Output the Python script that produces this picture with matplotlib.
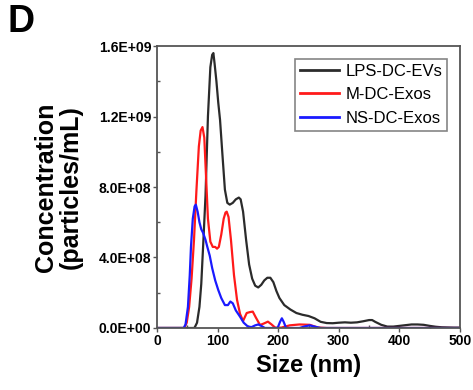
import numpy as np
import matplotlib
matplotlib.use('Agg')
import matplotlib.pyplot as plt
from matplotlib.ticker import MultipleLocator, FuncFormatter

plt.rcParams['font.family'] = ['Liberation Sans', 'DejaVu Sans']

# LPS-DC-EVs (size nm, concentration in 1E8 particles/mL)
lps_size = [0, 60, 62, 66, 70, 73, 76, 80, 84, 88, 91, 93, 95, 98, 101, 104, 108, 112, 116,
            120, 125, 130, 135, 138, 142, 147, 152, 157, 162, 167, 172, 177, 182, 187, 192,
            197, 202, 210, 220, 230, 240, 250, 260, 270, 280, 290, 300, 310, 320, 330, 340,
            350, 355, 360, 370, 380, 390, 400, 410, 420, 430, 440, 450, 460, 470, 480, 490, 500]
lps_conc = [0, 0, 0.02, 0.3, 1.2, 2.5, 4.6, 7.5, 12.0, 14.8, 15.5, 15.6, 15.0, 14.0, 12.8, 11.8,
            9.8, 7.85, 7.1, 7.0, 7.1, 7.3, 7.4, 7.3, 6.6, 5.0, 3.6, 2.8, 2.4, 2.3, 2.45, 2.7,
            2.85, 2.85, 2.6, 2.1, 1.7, 1.3, 1.05, 0.85, 0.75, 0.68, 0.55, 0.35, 0.28, 0.27,
            0.3, 0.32, 0.3, 0.32, 0.38, 0.45, 0.45, 0.35, 0.18, 0.08, 0.08, 0.12, 0.16, 0.2,
            0.2, 0.18, 0.12, 0.07, 0.04, 0.03, 0.02, 0.02]

# M-DC-Exos
m_size = [0, 45, 49, 53, 57, 61, 65, 69, 72, 75, 78, 81, 84, 88, 92, 96, 99, 102, 106, 110,
          113, 115, 118, 122, 127, 132, 137, 142, 148, 153, 158, 163, 170, 176, 183, 189, 195,
          205, 219, 235, 252, 265, 280, 500]
m_conc = [0, 0, 0.3, 1.2, 2.8, 5.0, 7.8, 10.3, 11.2, 11.4, 10.8, 8.5, 6.2, 4.9, 4.6, 4.6, 4.5,
          4.6, 5.3, 6.2, 6.55, 6.6, 6.3, 5.0, 3.0, 1.6, 0.8, 0.4, 0.85, 0.9, 0.93, 0.6, 0.17,
          0.25, 0.36, 0.2, 0.02, 0.02, 0.15, 0.2, 0.18, 0.03, 0, 0]

# NS-DC-Exos
ns_size = [0, 44, 47, 51, 54, 56, 59, 62, 64, 67, 70, 73, 76, 80, 83, 87, 91, 96, 101, 106,
           112, 117, 121, 125, 130, 137, 143, 150, 156, 162, 167, 172, 178, 199, 203, 206, 209,
           213, 235, 245, 252, 260, 270, 500]
ns_conc = [0, 0, 0.2, 1.2, 3.0, 4.6, 6.2, 6.9, 7.0, 6.6, 6.0, 5.6, 5.4, 5.0, 4.6, 4.1, 3.4,
           2.7, 2.16, 1.7, 1.3, 1.3, 1.5, 1.4, 1.0, 0.64, 0.3, 0.08, 0.05, 0.15, 0.2, 0.12,
           0, 0, 0.35, 0.55, 0.35, 0, 0, 0.1, 0.15, 0.08, 0, 0]

series = [
    ('LPS-DC-EVs', lps_size, lps_conc, '#2b2b2b'),
    ('M-DC-Exos', m_size, m_conc, '#ff1a1a'),
    ('NS-DC-Exos', ns_size, ns_conc, '#1a1aff'),
]

fig = plt.figure(figsize=(4.73, 3.9), dpi=100)
ax = fig.add_axes([0.332, 0.159, 0.6405, 0.723])

for label, x, y, color in series:
    ax.plot(x, np.array(y) * 1e8, color=color, lw=1.6, label=label)

ax.set_xlim(0, 500)
ax.set_ylim(0, 1.6e9)
ax.xaxis.set_major_locator(MultipleLocator(100))
ax.xaxis.set_minor_locator(MultipleLocator(50))
ax.yaxis.set_major_locator(MultipleLocator(4e8))
ax.yaxis.set_minor_locator(MultipleLocator(2e8))
ax.yaxis.set_major_formatter(FuncFormatter(lambda v, pos: f"{v:.1E}"))

ax.tick_params(which='major', direction='out', length=3, width=1, color='#555555',
               labelsize=10, pad=1)
ax.tick_params(which='minor', direction='in', length=2.5, width=1, color='#555555')
for lab in ax.get_xticklabels() + ax.get_yticklabels():
    lab.set_fontweight('bold')

for sp in ax.spines.values():
    sp.set_color('#555555')
    sp.set_linewidth(1.3)

ax.set_xlabel('Size (nm)', fontsize=17, fontweight='bold', labelpad=5)
ax.set_ylabel('Concentration\n(particles/mL)', fontsize=18, fontweight='bold',
              labelpad=12, linespacing=1.0)

leg = ax.legend(loc='upper right', bbox_to_anchor=(0.958, 0.954), borderaxespad=0,
                fontsize=12, frameon=True, fancybox=False, handlelength=2.3,
                handletextpad=0.4, labelspacing=0.5, borderpad=0.3)
leg.get_frame().set_edgecolor('#666666')
leg.get_frame().set_linewidth(1.2)
for line in leg.get_lines():
    line.set_linewidth(2)

fig.text(0.015, 0.99, 'D', fontsize=27, fontweight='bold', va='top', ha='left')

plt.savefig('out.png', dpi=100)
